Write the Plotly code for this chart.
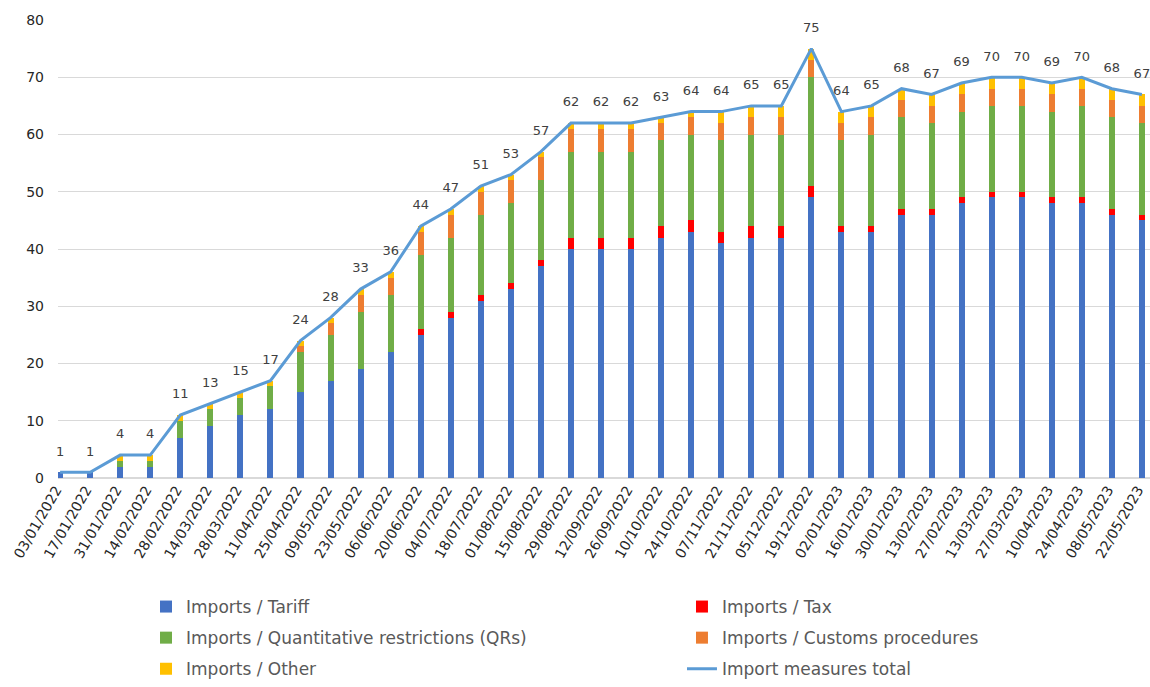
import plotly.graph_objects as go

dates = ["03/01/2022", "17/01/2022", "31/01/2022", "14/02/2022", "28/02/2022", "14/03/2022",
         "28/03/2022", "11/04/2022", "25/04/2022", "09/05/2022", "23/05/2022", "06/06/2022",
         "20/06/2022", "04/07/2022", "18/07/2022", "01/08/2022", "15/08/2022", "29/08/2022",
         "12/09/2022", "26/09/2022", "10/10/2022", "24/10/2022", "07/11/2022", "21/11/2022",
         "05/12/2022", "19/12/2022", "02/01/2023", "16/01/2023", "30/01/2023", "13/02/2023",
         "27/02/2023", "13/03/2023", "27/03/2023", "10/04/2023", "24/04/2023", "08/05/2023",
         "22/05/2023"]

tariff = [1, 1, 2, 2, 7, 9, 11, 12, 15, 17, 19, 22, 25, 28, 31, 33, 37, 40, 40, 40, 42, 43, 41,
          42, 42, 49, 43, 43, 46, 46, 48, 49, 49, 48, 48, 46, 45]
tax = [0, 0, 0, 0, 0, 0, 0, 0, 0, 0, 0, 0, 1, 1, 1, 1, 1, 2, 2, 2, 2, 2, 2, 2, 2, 2, 1, 1, 1, 1,
       1, 1, 1, 1, 1, 1, 1]
qrs = [0, 0, 1, 1, 3, 3, 3, 4, 7, 8, 10, 10, 13, 13, 14, 14, 14, 15, 15, 15, 15, 15, 16, 16, 16,
       19, 15, 16, 16, 15, 15, 15, 15, 15, 16, 16, 16]
customs = [0, 0, 0, 0, 0, 0, 0, 0, 1, 2, 3, 3, 4, 4, 4, 4, 4, 4, 4, 4, 3, 3, 3, 3, 3, 3, 3, 3, 3,
           3, 3, 3, 3, 3, 3, 3, 3]
other = [0, 0, 1, 1, 1, 1, 1, 1, 1, 1, 1, 1, 1, 1, 1, 1, 1, 1, 1, 1, 1, 1, 2, 2, 2, 2, 2, 2, 2, 2,
         2, 2, 2, 2, 2, 2, 2]
total = [1, 1, 4, 4, 11, 13, 15, 17, 24, 28, 33, 36, 44, 47, 51, 53, 57, 62, 62, 62, 63, 64, 64,
         65, 65, 75, 64, 65, 68, 67, 69, 70, 70, 69, 70, 68, 67]

# (name, values, colour, legend column)
series = [
    ("Imports / Tariff", tariff, "#4472C4", "legend"),
    ("Imports / Tax", tax, "#FF0000", "legend2"),
    ("Imports / Quantitative restrictions (QRs)", qrs, "#70AD47", "legend"),
    ("Imports / Customs procedures", customs, "#ED7D31", "legend2"),
    ("Imports / Other", other, "#FFC000", "legend"),
]

FONT = "DejaVu Sans"
fig = go.Figure()
for name, vals, col, leg in series:
    fig.add_trace(go.Bar(x=dates, y=vals, name=name, legend=leg, legendgroup=name,
                         marker=dict(color=col, line=dict(width=0)), width=0.2))

fig.add_trace(go.Scatter(
    x=dates, y=total, name="Import measures total", legend="legend2",
    legendgroup="Import measures total", mode="lines+markers+text",
    line=dict(color="#5B9BD5", width=3),
    marker=dict(size=20, color="rgba(0,0,0,0)"),
    text=[str(v) for v in total], textposition="top center",
    textfont=dict(family=FONT, size=13, color="#404040"),
    cliponaxis=False,
))

legend_common = dict(orientation="v", xanchor="left", y=-0.242, yanchor="top",
                     traceorder="grouped", tracegroupgap=6, bgcolor="rgba(0,0,0,0)",
                     font=dict(family=FONT, size=17, color="#595959"))

fig.update_layout(
    barmode="stack",
    width=1150, height=687,
    margin=dict(l=58, r=0, t=20, b=208),
    paper_bgcolor="white", plot_bgcolor="white",
    font=dict(family=FONT, color="#404040"),
    showlegend=True,
    legend=dict(x=0.0806, **legend_common),
    legend2=dict(x=0.5714, **legend_common),
    xaxis=dict(type="category", range=[-0.07, 36.27], tickangle=-60,
               tickfont=dict(family=FONT, size=14, color="#262626"),
               ticklabelshift=-4,
               showgrid=False, showline=False, ticks="", automargin=False),
    yaxis=dict(range=[0, 80], dtick=10, showgrid=True, gridcolor="#d9d9d9", gridwidth=1,
               zeroline=True, zerolinecolor="#d9d9d9", showline=False, ticks="",
               ticklabelstandoff=13, automargin=False,
               tickfont=dict(family=FONT, size=14, color="#262626")),
)

fig.write_html("out.html", config={"displayModeBar": False},
               post_script="document.body.style.margin='0';document.body.style.overflow='hidden';")
